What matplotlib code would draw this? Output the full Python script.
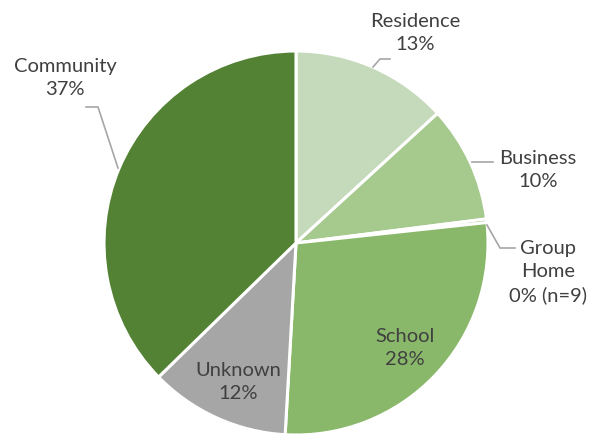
import matplotlib.pyplot as plt

labels = ['Residence', 'Business', 'Group Home', 'School', 'Unknown', 'Community']
values = [13.2, 9.8, 0.3, 27.6, 11.8, 37.3]
pct_text = ['13%', '10%', '0% (n=9)', '28%', '12%', '37%']
colors = ['#c5d9bb', '#a6c98e', '#6a9f48', '#8ab86b', '#a6a6a6', '#548235']

W, H = 592, 434
fig = plt.figure(figsize=(W / 100, H / 100), dpi=100)
ax = fig.add_axes([0, 0, 1, 1])

cx, cy, r = 296, H - 243, 192
ax.pie(values, colors=colors, startangle=90, counterclock=False,
       center=(cx, cy), radius=r, frame=True,
       wedgeprops=dict(edgecolor='white', linewidth=2.2))
ax.set_xlim(0, W)
ax.set_ylim(0, H)
ax.set_aspect('equal')
ax.axis('off')

txt = dict(fontsize=14.5, color='#404040', family='Lato', ha='center', va='center',
           linespacing=1.45)
line = dict(color='#a6a6a6', lw=1.2)

def py(y):
    return H - y

# label positions (pixel coords, y from top)
ax.text(415, py(33), labels[0] + '\n' + pct_text[0], **txt)
ax.plot([373, 380, 390], [py(67), py(59), py(59)], **line)

ax.text(538, py(170), labels[1] + '\n' + pct_text[1], **txt)
ax.plot([472, 493], [py(162), py(162)], **line)

ax.text(548, py(272), 'Group\nHome\n' + pct_text[2], **txt)
ax.plot([487, 500, 515], [py(225), py(248), py(248)], **line)

ax.text(405, py(348), labels[3] + '\n' + pct_text[3], **txt)
ax.text(238, py(382), labels[4] + '\n' + pct_text[4], **txt)

ax.text(65, py(78), labels[5] + '\n' + pct_text[5], **txt)
ax.plot([118, 98, 86], [py(168), py(107), py(107)], **line)

fig.savefig('out.png', dpi=100)
